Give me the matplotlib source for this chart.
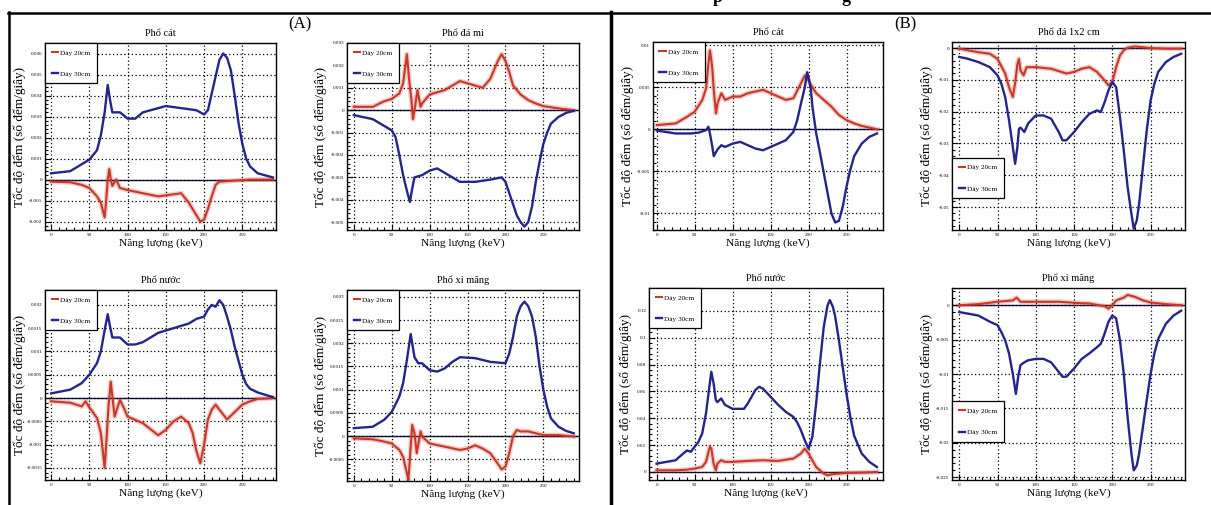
import matplotlib
matplotlib.use('Agg')
import matplotlib.pyplot as plt
from matplotlib.lines import Line2D
from matplotlib.ticker import MultipleLocator, AutoMinorLocator, FuncFormatter

plt.rcParams['font.family'] = ['Liberation Serif', 'DejaVu Serif']

# (energy keV, count-rate difference)
a1_20 = [(0, -0.0001), (25, -0.00013), (40, -0.00025), (50, -0.0004), (60, -0.0008), (65, -0.0011), (70, -0.0018),
         (72, -0.001), (74, 0.0), (76, 0.0005), (78, 0.0), (80, -0.0003), (85, 0.0), (90, -0.0004), (100, -0.0005),
         (120, -0.00065), (140, -0.0008), (160, -0.0007), (170, -0.00065), (180, -0.0011), (190, -0.0017),
         (195, -0.002), (200, -0.0019), (205, -0.0014), (210, -0.0008), (215, -0.00025), (220, -0.0001),
         (240, -0.00005), (260, 0.0), (290, 0.0)]
a1_30 = [(0, 0.0003), (25, 0.0004), (50, 0.00095), (60, 0.0014), (65, 0.0021), (70, 0.0032), (74, 0.0045),
         (77, 0.0038), (80, 0.0032), (90, 0.0032), (100, 0.0029), (110, 0.0029), (120, 0.0032), (130, 0.0033),
         (150, 0.0035), (170, 0.0034), (190, 0.0033), (200, 0.0031), (205, 0.0033), (210, 0.0041), (215, 0.0049),
         (220, 0.0057), (225, 0.006), (230, 0.0058), (235, 0.0052), (240, 0.004), (245, 0.0027), (250, 0.0017),
         (255, 0.001), (260, 0.00063), (270, 0.0003), (280, 0.0002), (290, 0.0001)]
a2_20 = [(0, 0.00015), (25, 0.00015), (40, 0.0004), (50, 0.0005), (60, 0.00075), (65, 0.0012), (70, 0.0025),
         (73, 0.00135), (76, 0.00045), (78, -0.0004), (80, 0.0), (84, 0.0009), (88, 0.00015), (90, 0.0003),
         (100, 0.0007), (120, 0.0009), (140, 0.0013), (150, 0.0012), (160, 0.0011), (170, 0.001), (180, 0.0014),
         (190, 0.0022), (195, 0.0025), (200, 0.0022), (205, 0.0017), (210, 0.0011), (220, 0.0007), (230, 0.00045),
         (240, 0.0003), (250, 0.00018), (270, 0.00008), (290, 0.0)]
a2_30 = [(0, -0.00022), (25, -0.0004), (40, -0.0007), (50, -0.0009), (55, -0.0012), (60, -0.002), (65, -0.0029),
         (70, -0.0036), (74, -0.0041), (77, -0.0035), (80, -0.003), (90, -0.0029), (100, -0.0027), (110, -0.0026),
         (120, -0.0028), (130, -0.003), (140, -0.0032), (160, -0.0032), (180, -0.0031), (195, -0.003),
         (200, -0.0032), (205, -0.0037), (210, -0.0042), (215, -0.0047), (220, -0.005), (225, -0.0052),
         (230, -0.005), (235, -0.0043), (240, -0.0032), (245, -0.0023), (250, -0.0015), (255, -0.001),
         (260, -0.0006), (270, -0.0003), (280, -0.00012), (290, -0.00003)]
a3_20 = [(0, -0.00007), (25, -0.0001), (40, -0.00018), (45, -0.00007), (50, -0.0002), (60, -0.00043),
         (65, -0.00075), (70, -0.0015), (72, -0.001), (75, -0.00018), (78, 0.00035), (80, 0.00004), (83, -0.0004),
         (88, -0.00014), (90, -0.00004), (95, -0.00021), (100, -0.0004), (120, -0.00054), (140, -0.0008),
         (150, -0.00068), (160, -0.0005), (170, -0.0004), (180, -0.00054), (185, -0.00075), (190, -0.00114),
         (195, -0.0014), (200, -0.001), (205, -0.00046), (210, -0.00025), (215, -0.00014), (220, -0.00025),
         (230, -0.00046), (240, -0.0003), (250, -0.00014), (260, -0.00007), (270, -0.00002), (290, 0.0)]
a3_30 = [(0, 0.0001), (25, 0.00018), (40, 0.00032), (50, 0.0005), (60, 0.00075), (65, 0.001), (70, 0.00146),
         (74, 0.0018), (77, 0.00154), (80, 0.0013), (90, 0.0013), (100, 0.00115), (110, 0.00115), (120, 0.0012),
         (130, 0.0013), (140, 0.0014), (160, 0.0015), (180, 0.0016), (190, 0.0017), (200, 0.00175), (205, 0.0019),
         (210, 0.002), (215, 0.00196), (220, 0.0021), (225, 0.002), (230, 0.00175), (235, 0.00146), (240, 0.0011),
         (245, 0.0008), (250, 0.0005), (255, 0.0003), (260, 0.0002), (270, 0.00012), (280, 0.00007), (290, 0.00002)]
a4_20 = [(0, -0.00005), (25, -0.00007), (40, -0.00012), (50, -0.00016), (60, -0.0003), (65, -0.00045),
         (70, -0.0008), (72, -0.00095), (75, -0.00023), (77, 0.00024), (80, 0.00006), (83, -0.00037), (88, 0.0001),
         (90, -0.00001), (100, -0.00016), (120, -0.00023), (140, -0.0003), (150, -0.00027), (160, -0.0002),
         (170, -0.00027), (180, -0.00037), (190, -0.0006), (195, -0.00072), (200, -0.00066), (205, -0.00037),
         (210, 0.0), (215, 0.00013), (220, 0.0001), (230, 0.0001), (240, 0.00006), (250, 0.00002), (270, 0.00002),
         (290, -0.00001)]
a4_30 = [(0, 0.00017), (25, 0.0002), (40, 0.00035), (50, 0.00052), (60, 0.00085), (65, 0.00114), (70, 0.00164),
         (75, 0.0022), (80, 0.0017), (85, 0.00157), (90, 0.00157), (100, 0.00142), (110, 0.00139), (120, 0.00146),
         (130, 0.0016), (140, 0.0017), (160, 0.00168), (180, 0.0016), (200, 0.00157), (205, 0.00178),
         (210, 0.00214), (215, 0.00258), (220, 0.0028), (225, 0.0029), (230, 0.0028), (235, 0.00258),
         (240, 0.00214), (245, 0.0015), (250, 0.001), (255, 0.00063), (260, 0.00038), (270, 0.0002),
         (280, 0.00011), (290, 0.00006)]
b1_20 = [(0, 0.0005), (25, 0.0007), (40, 0.0015), (50, 0.0021), (60, 0.0035), (65, 0.0049), (68, 0.0078),
         (70, 0.0094), (73, 0.0074), (75, 0.0047), (78, 0.0019), (80, 0.0031), (85, 0.0043), (90, 0.0035),
         (100, 0.0039), (110, 0.0039), (120, 0.0043), (140, 0.0047), (150, 0.0043), (160, 0.0039), (170, 0.0035),
         (180, 0.0037), (190, 0.0055), (195, 0.0064), (200, 0.0058), (205, 0.005), (210, 0.0043), (220, 0.0035),
         (230, 0.0027), (240, 0.0017), (250, 0.0011), (260, 0.0007), (270, 0.0004), (280, 0.0002), (290, 0.0)]
b1_30 = [(0, -0.00015), (25, -0.0005), (45, -0.0005), (55, -0.0004), (65, -0.0001), (68, 0.0003), (70, -0.0005),
         (73, -0.002), (75, -0.0032), (80, -0.0024), (85, -0.0019), (90, -0.0021), (100, -0.0017), (110, -0.0015),
         (120, -0.0019), (130, -0.0023), (140, -0.0025), (150, -0.0021), (160, -0.0017), (170, -0.0013),
         (180, -0.0003), (185, 0.0011), (190, 0.0031), (195, 0.005), (198, 0.0068), (200, 0.0062), (203, 0.0047),
         (205, 0.0027), (210, -0.0005), (215, -0.0028), (220, -0.0052), (225, -0.0076), (230, -0.01),
         (235, -0.0111), (240, -0.0109), (245, -0.0092), (250, -0.0068), (255, -0.0048), (260, -0.0032),
         (270, -0.0017), (280, -0.0009), (290, -0.0005)]
b2_20 = [(0, -0.0002), (25, -0.0013), (40, -0.0018), (50, -0.0034), (60, -0.008), (65, -0.0123), (70, -0.0154),
         (73, -0.011), (76, -0.005), (78, -0.0034), (80, -0.007), (84, -0.0086), (88, -0.006), (100, -0.006),
         (120, -0.0065), (140, -0.008), (150, -0.0075), (160, -0.0065), (170, -0.006), (180, -0.0075),
         (190, -0.0102), (195, -0.0117), (200, -0.0107), (205, -0.006), (210, -0.0023), (215, -0.0007),
         (220, 0.0001), (230, 0.0005), (250, 0.0), (270, -0.0002), (290, -0.0002)]
b2_30 = [(0, -0.0028), (10, -0.0033), (25, -0.0044), (40, -0.006), (50, -0.0086), (55, -0.0112), (60, -0.0154),
         (65, -0.0227), (70, -0.0311), (73, -0.0364), (76, -0.031), (78, -0.0254), (80, -0.025), (85, -0.0264),
         (90, -0.0237), (100, -0.0212), (110, -0.0212), (120, -0.0222), (130, -0.0264), (135, -0.029),
         (140, -0.029), (150, -0.0264), (160, -0.0233), (170, -0.0207), (180, -0.0196), (185, -0.0201),
         (190, -0.017), (195, -0.0133), (200, -0.0107), (205, -0.0123), (210, -0.0217), (215, -0.0322),
         (220, -0.0437), (225, -0.0521), (228, -0.0568), (232, -0.0542), (235, -0.049), (240, -0.0374),
         (245, -0.0259), (250, -0.0165), (255, -0.0112), (260, -0.0075), (270, -0.0044), (280, -0.0028),
         (290, -0.0018)]
b3_20 = [(0, 0.0012), (25, 0.0012), (40, 0.0017), (50, 0.0025), (60, 0.0037), (65, 0.0075), (70, 0.0187),
         (72, 0.0175), (75, 0.0062), (78, 0.0012), (80, 0.0062), (85, 0.0087), (90, 0.0075), (100, 0.0075),
         (120, 0.0082), (140, 0.0087), (160, 0.0082), (180, 0.01), (190, 0.0137), (195, 0.0174), (200, 0.0137),
         (205, 0.0087), (210, 0.0037), (215, 0.0012), (220, -0.0012), (225, -0.0025), (230, -0.0018),
         (240, -0.0012), (250, -0.0007), (270, -0.0005), (290, 0.0)]
b3_30 = [(0, 0.0062), (25, 0.0087), (35, 0.0137), (40, 0.016), (45, 0.015), (50, 0.0187), (55, 0.0224),
         (60, 0.0286), (65, 0.0435), (70, 0.066), (72, 0.0746), (75, 0.066), (78, 0.0535), (80, 0.052),
         (85, 0.0547), (90, 0.05), (100, 0.047), (110, 0.047), (115, 0.047), (120, 0.051), (125, 0.056),
         (130, 0.061), (135, 0.0634), (140, 0.062), (150, 0.056), (160, 0.05), (170, 0.0448), (180, 0.041),
         (185, 0.037), (190, 0.031), (195, 0.0236), (200, 0.0174), (205, 0.026), (210, 0.051), (215, 0.081),
         (220, 0.108), (225, 0.124), (228, 0.128), (232, 0.123), (235, 0.116), (240, 0.098), (245, 0.078),
         (250, 0.058), (255, 0.041), (260, 0.027), (270, 0.0137), (280, 0.0075), (290, 0.0037)]
b4_20 = [(0, 0.0), (25, 0.00015), (50, 0.0005), (70, 0.0007), (75, 0.0011), (80, 0.0005), (100, 0.0005),
         (130, 0.0005), (150, 0.00035), (170, 0.00025), (190, -0.00015), (195, -0.0005), (200, 0.0), (205, 0.0007),
         (215, 0.0011), (220, 0.0015), (230, 0.0012), (240, 0.0007), (250, 0.0004), (270, 0.00015), (290, 0.0)]
b4_30 = [(0, -0.001), (25, -0.0015), (40, -0.0024), (50, -0.0029), (55, -0.0039), (60, -0.0051), (65, -0.007),
         (70, -0.01), (74, -0.0129), (77, -0.0104), (80, -0.0087), (85, -0.0083), (90, -0.008), (100, -0.0078),
         (110, -0.0078), (120, -0.0083), (130, -0.0097), (135, -0.0104), (140, -0.0104), (150, -0.0092),
         (160, -0.0078), (170, -0.007), (180, -0.0061), (185, -0.0056), (190, -0.0041), (195, -0.0024),
         (200, -0.0015), (205, -0.0019), (210, -0.0051), (215, -0.01), (220, -0.0163), (225, -0.0216),
         (228, -0.024), (232, -0.0233), (235, -0.0216), (240, -0.0177), (245, -0.0138), (250, -0.01),
         (255, -0.007), (260, -0.0049), (270, -0.0027), (280, -0.0015), (290, -0.0008)]

titles = ['Phổ cát', 'Phổ đá mi', 'Phổ nước', 'Phổ xi măng',
          'Phổ cát', 'Phổ đá 1x2 cm', 'Phổ nước', 'Phổ xi măng']
labels = ['Dày 20cm', 'Dày 30cm']

RED = '#c8382a'
BLUE = '#24248a'
W, H = 1211, 505

# panel: (box px left, top, right, bottom), xlim, ylim, ytick step, legend anchor, ylabel x px
panels = [
    ((45, 43, 276, 230), (-8, 294), (-0.0024, 0.0065), 0.001, None, 20, a1_20, a1_30),
    ((347, 43, 579, 230), (-9, 297), (-0.00535, 0.003), 0.001, None, 321, a2_20, a2_30),
    ((45, 290, 276, 480), (-8, 294), (-0.00176, 0.00232), 0.0005, None, 20, a3_20, a3_30),
    ((347, 290, 579, 481), (-9, 297), (-0.00097, 0.00315), 0.0005, None, 321, a4_20, a4_30),
    ((653, 42, 883, 230), (-5, 298), (-0.012, 0.0104), 0.005, None, 628, b1_20, b1_30),
    ((952, 42, 1185, 230), (-9.5, 295), (-0.0572, 0.0019), 0.01, 0.17, 927, b2_20, b2_30),
    ((649, 288, 883, 480), (-10, 298), (-0.006, 0.137), 0.02, None, 626, b3_20, b3_30),
    ((952, 288, 1185, 480), (-9.5, 295), (-0.0254, 0.0025), 0.005, 0.2, 927, b4_20, b4_30),
]


def fmt(v, pos):
    v = round(v, 6)
    if v == 0:
        return '0'
    return '%g' % v


fig = plt.figure(figsize=(W / 100, H / 100), dpi=100)

for i, (box, xl, yl, step, low, ylx, s20, s30) in enumerate(panels):
    x0, y0, x1, y1 = box
    ax = fig.add_axes([x0 / W, 1 - y1 / H, (x1 - x0) / W, (y1 - y0) / H])
    e20, v20 = zip(*s20)
    e30, v30 = zip(*s30)
    ax.axhline(0, color='#101040', lw=1.0, zorder=1)
    ax.plot(e20, v20, color=RED, lw=3.6, alpha=0.25, zorder=2)
    l20, = ax.plot(e20, v20, color=RED, lw=1.5, zorder=3)
    l30, = ax.plot(e30, v30, color=BLUE, lw=1.7, zorder=3)
    ax.set_xlim(*xl)
    ax.set_ylim(*yl)
    ax.xaxis.set_major_locator(MultipleLocator(50))
    ax.xaxis.set_minor_locator(AutoMinorLocator(5))
    ax.yaxis.set_major_locator(MultipleLocator(step))
    ax.yaxis.set_minor_locator(AutoMinorLocator(5))
    ax.yaxis.set_major_formatter(FuncFormatter(fmt))
    ax.tick_params(which='both', direction='in', labelsize=3.6, pad=2, width=0.8)
    ax.tick_params(which='major', length=4)
    ax.tick_params(which='minor', length=2)
    ax.grid(True, which='major', color='black', ls=(0, (1, 2)), lw=0.9)
    for sp in ax.spines.values():
        sp.set_linewidth(1.0)
    ax.set_title(titles[i], fontsize=7.5, pad=5)
    ax.set_xlabel('Năng lượng (keV)', fontsize=8.2, labelpad=1)
    if low is None:
        kw = dict(loc='upper left', bbox_to_anchor=(0, 1))
    else:
        kw = dict(loc='lower left', bbox_to_anchor=(0, low))
    leg = ax.legend([l20, l30], labels, fontsize=5.2, frameon=True, fancybox=False,
                    borderaxespad=0, handlelength=0.9, handletextpad=0.3, labelspacing=2.1,
                    borderpad=0.9, framealpha=1, **kw)
    leg.get_frame().set_edgecolor('black')
    leg.get_frame().set_linewidth(0.9)
    fig.text(ylx / W, 1 - (y0 + y1) / 2 / H, 'Tốc độ đếm (số đếm/giây)', rotation=90,
             ha='center', va='center', fontsize=9.5)

# frame lines of the composite figure
fig.add_artist(Line2D([8 / W, 1], [1 - 12.5 / H, 1 - 12.5 / H], color='black', lw=1.8))
fig.add_artist(Line2D([8.5 / W, 8.5 / W], [0, 1 - 12 / H], color='black', lw=1.8))
fig.add_artist(Line2D([611 / W, 611 / W], [0, 1 - 12 / H], color='black', lw=2.5))

fig.text(300 / W, 1 - 24 / H, '(A)', fontsize=12, ha='center', va='center')
fig.text(905 / W, 1 - 24 / H, '(B)', fontsize=12, ha='center', va='center')
# cut-off heading above the figure: only descenders visible
fig.text(713 / W, 1 - 2 / H, 'p', fontsize=13, fontweight='bold', ha='left', va='baseline')
fig.text(842 / W, 1 - 2 / H, 'g', fontsize=13, fontweight='bold', ha='left', va='baseline')

fig.savefig('out.png', dpi=100)
